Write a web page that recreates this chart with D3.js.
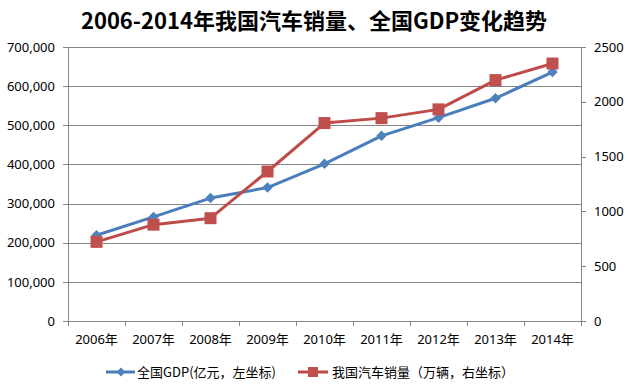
<!DOCTYPE html>
<meta charset="utf-8">
<style>
body { margin:0; background:#fff; }
text { font-family:"Noto Sans","Noto Sans CJK SC",sans-serif; fill:#000; }
.title { font-family:"Noto Sans CJK SC",sans-serif; font-weight:bold; font-size:22px; text-anchor:middle; }
.axis text { font-size:13px; }
.axis path, .axis line { stroke:#868686; shape-rendering:crispEdges; }
.grid line { stroke:#868686; shape-rendering:crispEdges; }
.legend text { font-family:"Noto Sans CJK SC",sans-serif; font-size:13px; }
</style>
<body>
<script src="https://d3js.org/d3.v7.min.js"></script>
<script>

var years = ["2006年","2007年","2008年","2009年","2010年","2011年","2012年","2013年","2014年"];
var gdp = [219000, 266000, 314000, 341000, 401500, 473000, 519500, 569000, 636000];
var sales = [722, 879, 938, 1364, 1806, 1851, 1931, 2198, 2349];
var leftTicks = [0,100000,200000,300000,400000,500000,600000,700000];
var rightTicks = [0,500,1000,1500,2000,2500];
var seriesNames = ["全国GDP(亿元，左坐标)", "我国汽车销量（万辆，右坐标）"];

var W = 629, H = 389;
var mLeft = 68, mRight = 581, mTop = 47, mBottom = 321;

var svg = d3.select("body").append("svg").attr("width", W).attr("height", H);

svg.append("text").attr("class","title").attr("x", 314).attr("y", 29)
	.text("2006-2014年我国汽车销量、全国GDP变化趋势");

var x = d3.scaleBand().domain(years).range([mLeft, mRight]);
var yL = d3.scaleLinear().domain([0, 700000]).range([mBottom, mTop]);
var yR = d3.scaleLinear().domain([0, 2500]).range([mBottom, mTop]);

// gridlines
svg.append("g").attr("class","grid")
	.selectAll("line").data(leftTicks.slice(1)).enter().append("line")
	.attr("x1", mLeft).attr("x2", mRight)
	.attr("y1", d=>Math.round(yL(d))+0.5).attr("y2", d=>Math.round(yL(d))+0.5);

var axL = svg.append("g").attr("class","axis").attr("transform","translate("+mLeft+",0)")
	.call(d3.axisLeft(yL).tickValues(leftTicks).tickSize(5).tickPadding(8).tickFormat(d3.format(",")));
var axR = svg.append("g").attr("class","axis").attr("transform","translate("+mRight+",0)")
	.call(d3.axisRight(yR).tickValues(rightTicks).tickSize(5).tickPadding(8).tickFormat(d3.format("d")));
var axX = svg.append("g").attr("class","axis").attr("transform","translate(0,"+mBottom+")")
	.call(d3.axisBottom(x).tickSize(0).tickPadding(14));

// x tick marks at band boundaries
svg.append("g").attr("class","axis")
	.selectAll("line").data(d3.range(years.length+1)).enter().append("line")
	.attr("x1", i=>Math.round(mLeft + i*x.step())+0.5).attr("x2", i=>Math.round(mLeft + i*x.step())+0.5)
	.attr("y1", mBottom).attr("y2", mBottom+5);

[axL, axR].forEach(a=>a.select(".domain").remove());
svg.append("g").attr("class","axis").selectAll("line")
	.data([mLeft, mRight]).enter().append("line")
	.attr("x1", d=>d+0.5).attr("x2", d=>d+0.5).attr("y1", mTop).attr("y2", mBottom);

var cx = d=>x(d)+x.bandwidth()/2;
var blue = "#4A7EBB", blueM = "#4F81BD", red = "#BE4B48", redM = "#C0504D";

svg.append("path").datum(gdp)
	.attr("fill","none").attr("stroke",blue).attr("stroke-width",3).attr("stroke-linejoin","round")
	.attr("d", d3.line().x((d,i)=>cx(years[i])).y(d=>yL(d)));
svg.append("g").selectAll("path").data(gdp).enter().append("path")
	.attr("d", d3.symbol().type(d3.symbolDiamond2).size(70))
	.attr("fill", blueM)
	.attr("transform", (d,i)=>"translate("+cx(years[i])+","+yL(d)+")");

svg.append("path").datum(sales)
	.attr("fill","none").attr("stroke",red).attr("stroke-width",3).attr("stroke-linejoin","round")
	.attr("d", d3.line().x((d,i)=>cx(years[i])).y(d=>yR(d)));
svg.append("g").selectAll("rect").data(sales).enter().append("rect")
	.attr("x", (d,i)=>cx(years[i])-6).attr("y", d=>yR(d)-6)
	.attr("width", 12).attr("height", 12).attr("fill", redM);

// legend
var lg = svg.append("g").attr("class","legend");
lg.append("line").attr("x1",106).attr("x2",135).attr("y1",372).attr("y2",372).attr("stroke",blue).attr("stroke-width",3);
lg.append("path").attr("d", d3.symbol().type(d3.symbolDiamond2).size(50)).attr("fill",blueM).attr("transform","translate(121,372)");
lg.append("text").attr("x",137).attr("y",377).text(seriesNames[0]);
lg.append("line").attr("x1",298).attr("x2",328).attr("y1",372).attr("y2",372).attr("stroke",red).attr("stroke-width",3);
lg.append("rect").attr("x",308).attr("y",367).attr("width",10).attr("height",10).attr("fill",redM);
lg.append("text").attr("x",332).attr("y",377).text(seriesNames[1]);

</script>
</body>
